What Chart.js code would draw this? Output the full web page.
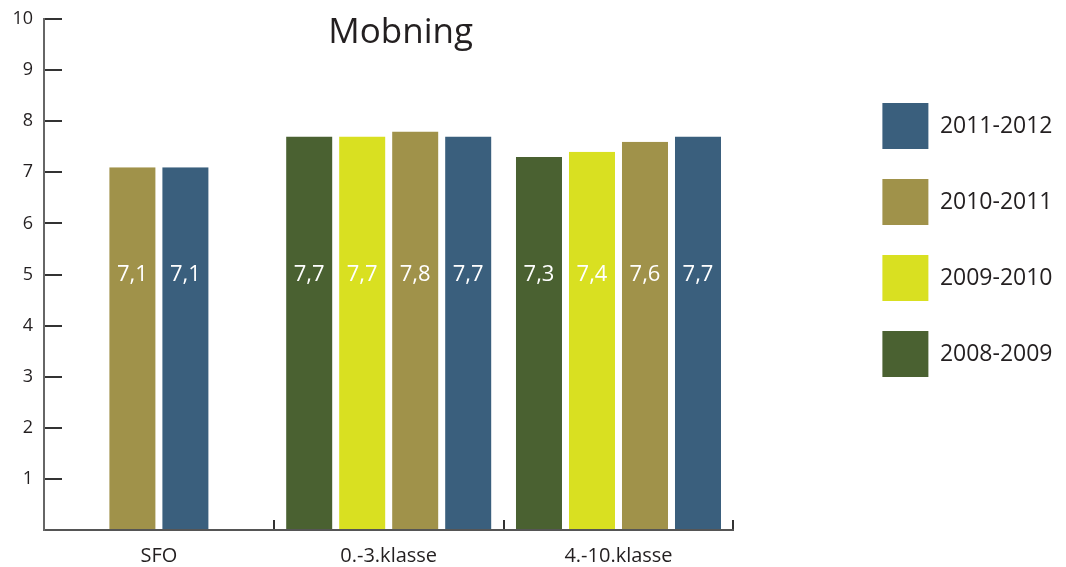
<!DOCTYPE html>
<html lang="no">
<head>
  <meta charset="UTF-8" />
  <title>Mobning</title>
  <style>
    body { margin: 0; background: #fff; }
    #wrap { width: 1066px; height: 567px; position: relative; }
  </style>
</head>
<body>

<div id="wrap"><canvas id="graph"></canvas></div>

<script src="https://cdn.jsdelivr.net/npm/chart.js"></script>
<script>
// data
const categories = ['SFO', '0.-3.klasse', '4.-10.klasse'];
const years = ['2008-2009', '2009-2010', '2010-2011', '2011-2012'];
const v2008 = [null, 7.7, 7.3];
const v2009 = [null, 7.7, 7.4];
const v2010 = [7.1, 7.8, 7.6];
const v2011 = [7.1, 7.7, 7.7];
const yTicks = [0, 1, 2, 3, 4, 5, 6, 7, 8, 9, 10];

const colors = ['#4a6131', '#d9e021', '#a0924a', '#3a5f7d'];
const FONT = '"Open Sans", "Noto Sans", sans-serif';
const TEXT = '#231f20';

// labels inside the bars sit at this value on the y scale
const labelLevel = 5;

const valueLabels = {
  id: 'valueLabels',
  afterDatasetsDraw(chart) {
    const ctx = chart.ctx;
    const y = chart.scales.y.getPixelForValue(labelLevel);
    ctx.save();
    ctx.fillStyle = '#fff';
    ctx.font = '22px ' + FONT;
    ctx.textAlign = 'center';
    ctx.textBaseline = 'middle';
    chart.data.datasets.forEach((ds, i) => {
      chart.getDatasetMeta(i).data.forEach((bar, j) => {
        const v = ds.data[j];
        if (v == null) return;
        ctx.fillText(v.toFixed(1).replace('.', ','), bar.x, y);
      });
    });
    ctx.restore();
  }
};

const chartTitle = {
  id: 'chartTitle',
  afterDraw(chart) {
    const ctx = chart.ctx;
    const a = chart.chartArea;
    ctx.save();
    ctx.fillStyle = TEXT;
    ctx.font = '35px ' + FONT;
    ctx.textAlign = 'center';
    ctx.textBaseline = 'middle';
    ctx.fillText('Mobning', (a.left + a.right) / 2 + 12, 33);
    ctx.restore();
  }
};

// let the legend be wider than the layout's default share
const wideLegend = {
  id: 'wideLegend',
  beforeLayout(chart) {
    const lg = chart.legend;
    if (lg && !lg._wide) {
      const fit = lg.fit;
      lg.fit = function () { this.maxWidth = Math.max(this.maxWidth, 260); fit.call(this); };
      lg._wide = true;
    }
  }
};

const series = [v2008, v2009, v2010, v2011];

const chart = new Chart(document.getElementById('graph'), {
  type: 'bar',
  data: {
    labels: categories,
    datasets: series.map((d, i) => ({
      label: years[i],
      data: d,
      backgroundColor: colors[i],
      borderColor: '#fff',
      borderWidth: { left: 3.5, right: 3.5, top: 0, bottom: 0 },
      borderSkipped: false,
      barThickness: 53,
      skipNull: true,
      inflateAmount: 0
    }))
  },
  options: {
    responsive: true,
    maintainAspectRatio: false,
    animation: false,
    layout: { padding: { left: 12, top: 19, right: 3.5, bottom: 0 } },
    plugins: {
      tooltip: { enabled: false },
      legend: {
        position: 'right',
        align: 'start',
        reverse: true,
        title: { display: true, text: '', font: { size: 10, lineHeight: 1 }, padding: { top: 44, bottom: 0 } },
        labels: {
          boxWidth: 46,
          boxHeight: 46,
          padding: 30,
          color: TEXT,
          font: { family: FONT, size: 23 },
          generateLabels: (c) => Chart.defaults.plugins.legend.labels.generateLabels(c)
            .map(l => Object.assign(l, { lineWidth: 0, strokeStyle: 'rgba(0,0,0,0)' }))
        }
      }
    },
    scales: {
      x: {
        grid: { display: true, drawOnChartArea: false, offset: true, tickLength: -10, color: '#333', lineWidth: 2 },
        border: { display: true, color: '#555', width: 2 },
        ticks: { color: TEXT, padding: 24, font: { family: FONT, size: 20 } },
        afterFit: (s) => { s.height = 37; s.paddingLeft = 0; s.paddingRight = 0; }
      },
      y: {
        min: 0,
        max: 10,
        afterBuildTicks: (s) => { s.ticks = yTicks.map(v => ({ value: v })); },
        grid: { display: true, drawOnChartArea: false, tickLength: -18, color: '#333', lineWidth: 2 },
        border: { display: true, color: '#666', width: 2 },
        ticks: {
          color: TEXT,
          padding: 29,
          font: { family: FONT, size: 18 },
          callback: (v) => (v === 0 ? '' : v)
        },
        afterFit: (s) => { s.width = 32; s.paddingTop = 0; s.paddingBottom = 0; }
      },
      gap: {
        axis: 'y',
        position: 'right',
        display: true,
        grid: { display: false },
        border: { display: false },
        ticks: { display: false },
        afterFit: (s) => { s.width = 119; }
      }
    }
  },
  plugins: [wideLegend, valueLabels, chartTitle]
});
</script>

</body>
</html>
